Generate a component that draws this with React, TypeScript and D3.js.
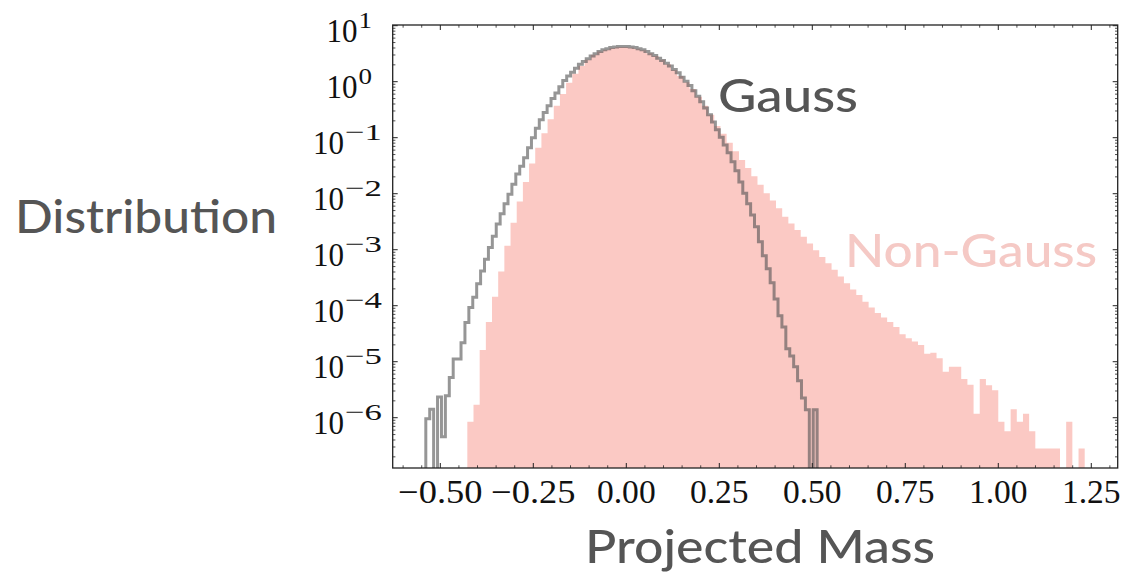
import React from "react";
import * as d3 from "d3";

// log10 of the histogram density, one value per bin (null = empty bin)
const gaussRange = [-0.539, 0.513];
const gaussLogDensity: (number | null)[] = [
  -6.02, -5.85, null, -5.63, -6.34, -5.61, -5.28, -4.95, -4.95, -4.66,
  -4.30, -4.03, -3.85, -3.61, -3.38, -3.17, -2.96, -2.76, -2.54, -2.36,
  -2.18, -2.01, -1.83, -1.65, -1.51, -1.36, -1.18, -1.00, -0.83, -0.68,
  -0.55, -0.43, -0.30, -0.20, -0.09, 0.02, 0.10, 0.17, 0.24, 0.31,
  0.36, 0.41, 0.46, 0.50, 0.54, 0.57, 0.59, 0.61, 0.62, 0.63,
  0.63, 0.63, 0.62, 0.61, 0.59, 0.57, 0.54, 0.50, 0.47, 0.42,
  0.38, 0.33, 0.28, 0.22, 0.16, 0.08, 0.01, -0.07, -0.16, -0.26,
  -0.36, -0.47, -0.59, -0.72, -0.86, -0.99, -1.13, -1.27, -1.43, -1.59,
  -1.79, -1.99, -2.18, -2.38, -2.59, -2.86, -3.11, -3.34, -3.59, -3.88,
  -4.18, -4.38, -4.77, -4.90, -5.09, -5.34, -5.65, -5.86, null, -5.86,
];

const nonGaussRange = [-0.4274, 1.2323];
const nonGaussLogDensity: (number | null)[] = [
  -6.07, -5.77, -4.79, -4.29, -3.84, -3.39, -2.93, -2.52, -2.14, -1.79,
  -1.46, -1.18, -0.92, -0.67, -0.43, -0.22, -0.02, 0.14, 0.28, 0.39,
  0.48, 0.54, 0.57, 0.60, 0.62, 0.62, 0.61, 0.59, 0.56, 0.51,
  0.46, 0.39, 0.31, 0.21, 0.10, -0.01, -0.13, -0.27, -0.43, -0.59,
  -0.79, -0.93, -1.09, -1.24, -1.40, -1.54, -1.69, -1.84, -1.99, -2.12,
  -2.26, -2.41, -2.53, -2.65, -2.77, -2.89, -3.01, -3.13, -3.24, -3.36,
  -3.48, -3.60, -3.71, -3.81, -3.93, -4.03, -4.13, -4.21, -4.29, -4.38,
  -4.51, -4.58, -4.64, -4.70, -4.86, -4.84, -4.94, -5.18, -5.09, -5.09,
  -5.31, -5.41, -5.93, -5.31, -5.42, -5.51, -6.07, -6.24, -5.85, -6.07,
  -5.93, -6.24, -6.55, -6.55, -6.55, -6.55, null, -6.07, null, -6.55,
];

const xTicks = [-0.5, -0.25, 0, 0.25, 0.5, 0.75, 1.0, 1.25];
const xTickLabels = ["\u22120.50", "\u22120.25", "0.00", "0.25", "0.50", "0.75", "1.00", "1.25"];
const yTickExponents = [1, 0, -1, -2, -3, -4, -5, -6];
const yTickLabels = ["1", "0", "\u22121", "\u22122", "\u22123", "\u22124", "\u22125", "\u22126"];

const xDomain = [-0.628, 1.321];
const yDomainExp = [-6.898, 1.0125];

const W = 1122;
const H = 574;
const plot = { left: 392.7, right: 1117.7, top: 25, bottom: 468 };

const labelFont = "Lato, 'Open Sans', 'Noto Sans', sans-serif";
const tickFont = "'Liberation Serif', 'DejaVu Serif', serif";

function stepPath(
  vals: (number | null)[],
  range: number[],
  x: d3.ScaleLinear<number, number>,
  y: d3.ScaleLogarithmic<number, number>,
  yb: number
) {
  const n = vals.length;
  const w = (range[1] - range[0]) / n;
  let d = `M${x(range[0])},${yb}`;
  vals.forEach((v, i) => {
    const yy = v == null ? yb : y(Math.pow(10, v));
    d += `L${x(range[0] + i * w)},${yy}L${x(range[0] + (i + 1) * w)},${yy}`;
  });
  d += `L${x(range[1])},${yb}`;
  return d;
}

export default function App() {
  const x = d3.scaleLinear().domain(xDomain).range([plot.left, plot.right]);
  const y = d3
    .scaleLog()
    .domain([Math.pow(10, yDomainExp[0]), Math.pow(10, yDomainExp[1])])
    .range([plot.bottom, plot.top]);
  const yb = plot.bottom + 8;

  const pinkPath = stepPath(nonGaussLogDensity, nonGaussRange, x, y, yb) + "Z";
  const grayPath = stepPath(gaussLogDensity, gaussRange, x, y, yb);

  const xMinor: number[] = [];
  for (let k = -12; k <= 26; k++) {
    const v = k * 0.05;
    if (v < xDomain[0] || v > xDomain[1]) continue;
    if (xTicks.some((t) => Math.abs(t - v) < 1e-9)) continue;
    xMinor.push(v);
  }
  const yMinor: number[] = [];
  for (let e = -7; e <= 1; e++) {
    for (let m = 2; m <= 9; m++) {
      const v = m * Math.pow(10, e);
      const le = Math.log10(v);
      if (le < yDomainExp[0] || le > yDomainExp[1]) continue;
      yMinor.push(v);
    }
  }

  const tickColor = "#222";
  const majorLen = 5;
  const minorLen = 2.7;
  const em = 33;

  return (
    <svg
      width={W}
      height={H}
      style={{ position: "absolute", left: 0, top: 0, background: "#fff" }}
    >
      <defs>
        <clipPath id="plotclip">
          <rect
            x={plot.left}
            y={plot.top}
            width={plot.right - plot.left}
            height={plot.bottom - plot.top}
          />
        </clipPath>
      </defs>
      <rect x={0} y={0} width={W} height={H} fill="#fff" />
      <g clipPath="url(#plotclip)">
        <path d={pinkPath} fill="#fbc9c4" stroke="none" />
        <path
          d={grayPath}
          fill="none"
          stroke="#555"
          strokeOpacity={0.62}
          strokeWidth={3}
          strokeLinejoin="miter"
        />
      </g>
      {/* frame */}
      <rect
        x={plot.left}
        y={plot.top}
        width={plot.right - plot.left}
        height={plot.bottom - plot.top}
        fill="none"
        stroke={tickColor}
        strokeWidth={1.3}
      />
      {/* x ticks */}
      {xTicks.map((t) => (
        <g key={"xt" + t}>
          <line x1={x(t)} x2={x(t)} y1={plot.bottom} y2={plot.bottom - majorLen} stroke={tickColor} strokeWidth={1} />
          <line x1={x(t)} x2={x(t)} y1={plot.top} y2={plot.top + majorLen} stroke={tickColor} strokeWidth={1} />
        </g>
      ))}
      {xMinor.map((t) => (
        <g key={"xm" + t}>
          <line x1={x(t)} x2={x(t)} y1={plot.bottom} y2={plot.bottom - minorLen} stroke={tickColor} strokeWidth={0.8} />
          <line x1={x(t)} x2={x(t)} y1={plot.top} y2={plot.top + minorLen} stroke={tickColor} strokeWidth={0.8} />
        </g>
      ))}
      {/* y ticks */}
      {yTickExponents.map((e) => {
        const yy = y(Math.pow(10, e));
        return (
          <g key={"yt" + e}>
            <line x1={plot.left} x2={plot.left + majorLen} y1={yy} y2={yy} stroke={tickColor} strokeWidth={1} />
            <line x1={plot.right} x2={plot.right - majorLen} y1={yy} y2={yy} stroke={tickColor} strokeWidth={1} />
          </g>
        );
      })}
      {yMinor.map((v, i) => {
        const yy = y(v);
        return (
          <g key={"ym" + i}>
            <line x1={plot.left} x2={plot.left + minorLen} y1={yy} y2={yy} stroke={tickColor} strokeWidth={0.8} />
            <line x1={plot.right} x2={plot.right - minorLen} y1={yy} y2={yy} stroke={tickColor} strokeWidth={0.8} />
          </g>
        );
      })}
      {/* x tick labels */}
      {xTicks.map((t, i) => {
        const lab = xTickLabels[i];
        const neg = lab.startsWith("\u2212");
        const width = em * (1.778 + (neg ? 0.778 : 0));
        return (
          <text
            key={"xl" + t}
            x={x(t) - width / 2}
            y={503}
            fontFamily={tickFont}
            fontSize={em}
            fill="#111"
            textLength={width}
            lengthAdjust="spacingAndGlyphs"
          >
            {lab}
          </text>
        );
      })}
      {/* y tick labels */}
      {yTickExponents.map((e, i) => {
        const yy = y(Math.pow(10, e));
        const lab = yTickLabels[i];
        const neg = lab.startsWith("\u2212");
        const right = neg ? 382 : 372;
        const supW = neg ? 37 : 13.5;
        const baseW = 31;
        return (
          <g key={"yl" + e}>
            <text
              x={right - supW - baseW - 1}
              y={yy + 16}
              fontFamily={tickFont}
              fontSize={em}
              fill="#111"
              textLength={baseW}
              lengthAdjust="spacingAndGlyphs"
            >
              10
            </text>
            <text
              x={right - supW}
              y={yy + 2}
              fontFamily={tickFont}
              fontSize={24}
              fill="#111"
              textLength={supW}
              lengthAdjust="spacingAndGlyphs"
            >
              {lab}
            </text>
          </g>
        );
      })}
      {/* axis labels */}
      <text x={15} y={233} fontFamily={labelFont} fontSize={46} fontWeight={500} fill="#555" textLength={262} lengthAdjust="spacingAndGlyphs">
        Distribution
      </text>
      <text x={585} y={563} fontFamily={labelFont} fontSize={46} fontWeight={500} fill="#555" textLength={350} lengthAdjust="spacingAndGlyphs">
        Projected Mass
      </text>
      {/* series labels */}
      <text x={718} y={112} fontFamily={labelFont} fontSize={46} fontWeight={500} fill="#555" textLength={140} lengthAdjust="spacingAndGlyphs">
        Gauss
      </text>
      <text x={845} y={267} fontFamily={labelFont} fontSize={46} fontWeight={500} fill="#f5c9c5" textLength={252} lengthAdjust="spacingAndGlyphs">
        Non-Gauss
      </text>
    </svg>
  );
}
